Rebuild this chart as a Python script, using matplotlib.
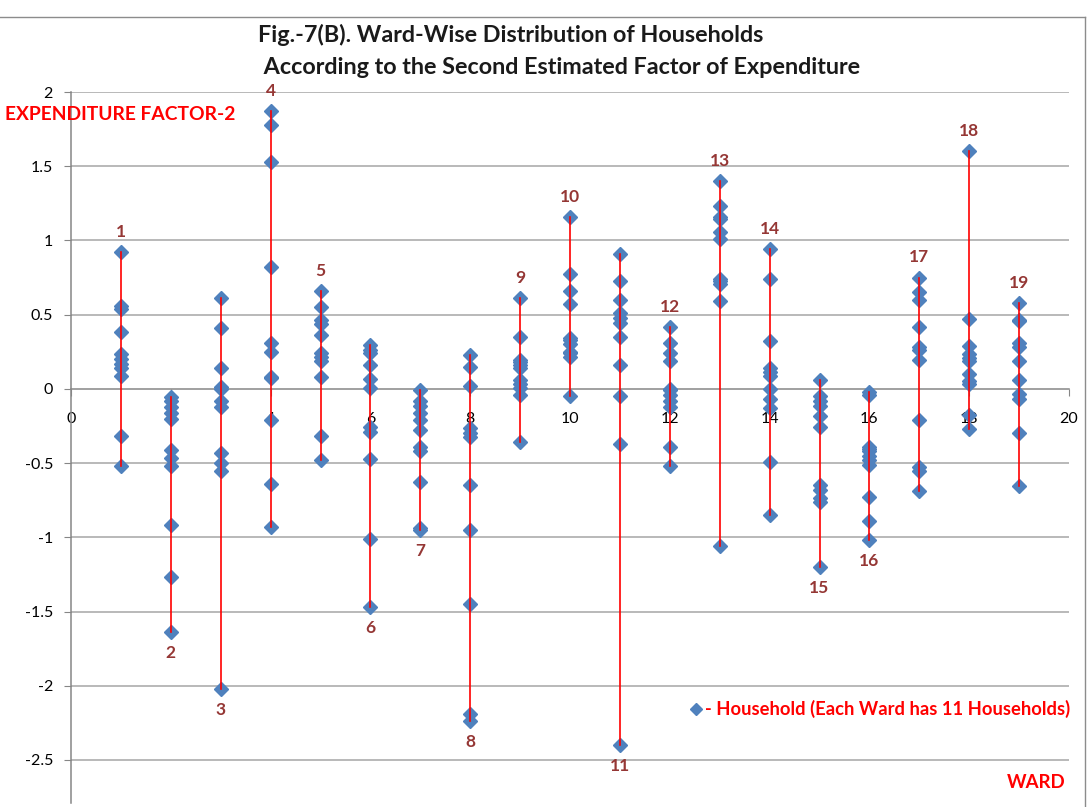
import numpy as np
import matplotlib.pyplot as plt
from matplotlib.lines import Line2D

plt.switch_backend('Agg')
plt.rcParams['font.family'] = ['Lato', 'DejaVu Sans']

# second estimated factor of expenditure, 11 households per ward
ward1 = [0.92, 0.555, 0.54, 0.38, 0.235, 0.20, 0.17, 0.14, 0.09, -0.32, -0.52]
ward2 = [-0.055, -0.085, -0.12, -0.165, -0.205, -0.41, -0.465, -0.52, -0.92, -1.27, -1.64]
ward3 = [0.61, 0.41, 0.14, 0.01, 0.0, -0.085, -0.12, -0.43, -0.50, -0.555, -2.02]
ward4 = [1.87, 1.78, 1.53, 0.82, 0.31, 0.25, 0.08, 0.07, -0.21, -0.64, -0.93]
ward5 = [0.66, 0.55, 0.465, 0.44, 0.365, 0.24, 0.215, 0.185, 0.08, -0.32, -0.48]
ward6 = [0.295, 0.265, 0.24, 0.16, 0.065, 0.005, -0.255, -0.29, -0.475, -1.01, -1.47]
ward7 = [-0.005, -0.08, -0.115, -0.165, -0.21, -0.275, -0.39, -0.42, -0.63, -0.935, -0.95]
ward8 = [0.23, 0.15, 0.02, -0.265, -0.30, -0.325, -0.645, -0.95, -1.45, -2.19, -2.24]
ward9 = [0.61, 0.35, 0.195, 0.18, 0.16, 0.14, 0.06, 0.03, 0.005, -0.04, -0.36]
ward10 = [1.16, 0.775, 0.66, 0.575, 0.34, 0.33, 0.305, 0.25, 0.24, 0.215, -0.05]
ward11 = [0.91, 0.73, 0.60, 0.51, 0.48, 0.445, 0.35, 0.16, -0.05, -0.37, -2.40]
ward12 = [0.415, 0.31, 0.245, 0.19, 0.0, -0.01, -0.04, -0.08, -0.125, -0.39, -0.52]
ward13 = [1.40, 1.23, 1.16, 1.145, 1.055, 1.01, 0.74, 0.725, 0.705, 0.595, -1.06]
ward14 = [0.94, 0.74, 0.32, 0.14, 0.115, 0.09, 0.0, -0.07, -0.13, -0.495, -0.85]
ward15 = [0.06, -0.045, -0.08, -0.115, -0.18, -0.255, -0.645, -0.68, -0.735, -0.76, -1.20]
ward16 = [-0.02, -0.04, -0.39, -0.405, -0.42, -0.45, -0.48, -0.51, -0.73, -0.89, -1.02]
ward17 = [0.75, 0.65, 0.60, 0.42, 0.285, 0.265, 0.195, -0.21, -0.525, -0.55, -0.685]
ward18 = [1.60, 0.47, 0.29, 0.235, 0.21, 0.185, 0.10, 0.05, 0.03, -0.175, -0.27]
ward19 = [0.58, 0.465, 0.455, 0.31, 0.28, 0.19, 0.06, -0.035, -0.065, -0.295, -0.655]

scores = [ward1, ward2, ward3, ward4, ward5, ward6, ward7, ward8, ward9, ward10,
          ward11, ward12, ward13, ward14, ward15, ward16, ward17, ward18, ward19]
wards = list(range(1, 20))
# ward number label above the highest or below the lowest household
label_side = ['top', 'bottom', 'bottom', 'top', 'top', 'bottom', 'bottom', 'bottom', 'top', 'top',
              'bottom', 'top', 'top', 'top', 'bottom', 'bottom', 'top', 'top', 'top']

fig = plt.figure(figsize=(10.89, 8.07), dpi=100)
ax = fig.add_axes([71 / 1089, 4 / 807, 998 / 1089, 711 / 807])

for w, vals, side in zip(wards, scores, label_side):
    ax.plot([w] * len(vals), vals, linestyle='none', marker='D', markersize=7.5,
            color='#4F81BD', zorder=3, clip_on=False)
    ax.plot([w, w], [min(vals), max(vals)], color='#FF0000', lw=1.2, zorder=4)
    if side == 'top':
        ax.annotate(str(w), (w, max(vals)), xytext=(0, 14.5), textcoords='offset points',
                    ha='center', va='center', fontsize=12.5, fontweight='bold', color='#953735')
    else:
        ax.annotate(str(w), (w, min(vals)), xytext=(0, -15), textcoords='offset points',
                    ha='center', va='center', fontsize=12.5, fontweight='bold', color='#953735')

ax.set_xlim(0, 20)
ax.set_ylim(-2.79, 2)
ax.set_xticks(np.arange(0, 21, 2))
ax.set_yticks(np.arange(-2.5, 2.01, 0.5))
ax.set_yticklabels([f'{v:g}' for v in np.arange(-2.5, 2.01, 0.5)])

for v in np.arange(-2.5, 2.01, 0.5):
    if v != 0:
        ax.axhline(v, color='#A6A6A6', lw=1.1, zorder=1)

for s in ['top', 'right']:
    ax.spines[s].set_visible(False)
ax.spines['bottom'].set_position(('data', 0))
ax.spines['bottom'].set_color('#868686')
ax.spines['bottom'].set_linewidth(1.1)
ax.spines['left'].set_color('#868686')
ax.spines['left'].set_linewidth(1.1)
ax.tick_params(axis='x', direction='out', length=5, color='#868686', pad=12, labelsize=11.5)
ax.tick_params(axis='y', direction='out', length=5, color='#868686', pad=8, labelsize=11.5)

fig.text(258 / 1089, 1 - 35 / 807, 'Fig.-7(B). Ward-Wise Distribution of Households',
         ha='left', va='center', fontsize=16.8, fontweight='bold', color='#1A1A1A')
fig.text(258 / 1089, 1 - 67 / 807, ' According to the Second Estimated Factor of Expenditure',
         ha='left', va='center', fontsize=16.8, fontweight='bold', color='#1A1A1A')
fig.text(5 / 1089, 1 - 114 / 807, 'EXPENDITURE FACTOR-2', ha='left', va='center',
         fontsize=13.9, fontweight='bold', color='#FF0000')
fig.text(1066 / 1089, 1 - 783 / 807, 'WARD', ha='right', va='center',
         fontsize=13.4, fontweight='bold', color='#FF0000')

handle = Line2D([], [], linestyle='none', marker='D', markersize=6.5, color='#4F81BD')
leg = fig.legend([handle], ['- Household (Each Ward has 11 Households)'], loc='center right',
                 bbox_to_anchor=(1079 / 1089, 1 - 709 / 807), frameon=False,
                 handlelength=0.6, handletextpad=0.15, borderpad=0, fontsize=13.2)
for t in leg.get_texts():
    t.set_color('#FF0000')
    t.set_fontweight('bold')

# chart border (top and right edges visible in the crop)
fig.add_artist(Line2D([0, 1085 / 1089], [1 - 17 / 807] * 2, color='#8C8C8C', lw=1))
fig.add_artist(Line2D([1085 / 1089] * 2, [1 - 17 / 807, 0], color='#8C8C8C', lw=1))

fig.savefig('out.png', dpi=100)
